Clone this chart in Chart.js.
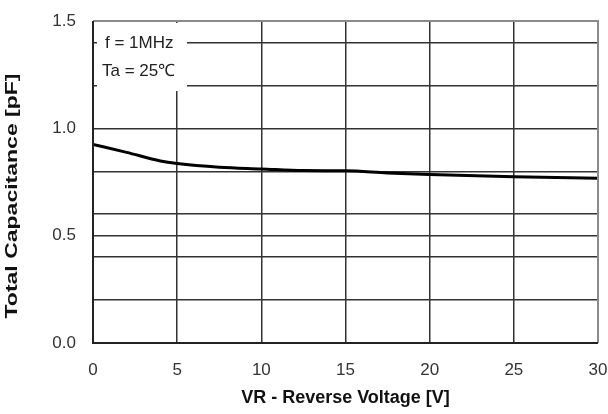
<!DOCTYPE html>
<html>
<head>
<meta charset="utf-8">
<script src="https://cdn.jsdelivr.net/npm/chart.js@4"></script>
<style>
  html, body { margin: 0; padding: 0; background: #fff; }
  #wrap { width: 608px; height: 414px; }
</style>
</head>
<body>
<div id="wrap"><canvas id="capChart" width="608" height="414"></canvas></div>
<script>
// values
const voltage = [0, 2, 4, 5, 7.5, 10, 12.5, 15, 17.5, 20, 25, 30];
const capacitance = [0.925, 0.888, 0.848, 0.836, 0.819, 0.811, 0.803, 0.802, 0.792, 0.785, 0.775, 0.767];
const yGridValues = [0, 0.2, 0.4, 0.5, 0.6, 0.8, 1.0, 1.2, 1.4, 1.5];
const yLabelValues = [0, 0.5, 1.0, 1.5];
const xTickValues = [0, 5, 10, 15, 20, 25, 30];
const noteLines = ['f = 1MHz', 'Ta = 25\u2103'];
const yTitle = 'Total Capacitance [pF]';
const xTitle = 'VR - Reverse Voltage [V]';

const FONT = "'Liberation Sans', Arial, sans-serif";

// white note box top-left, frame, and the (tall, narrow) y title
const notePlugin = {
    id: 'note',
    beforeDatasetsDraw(chart) {
        const { ctx, chartArea } = chart;
        ctx.save();
        ctx.fillStyle = '#fff';
        ctx.fillRect(chartArea.left + 4, chartArea.top + 2, 90, 68);
        ctx.fillStyle = '#222';
        ctx.font = '17px ' + FONT;
        ctx.textBaseline = 'middle';
        ctx.fillText(noteLines[0], chartArea.left + 12, chartArea.top + 22);
        ctx.fillText(noteLines[1], chartArea.left + 9, chartArea.top + 50);
        ctx.restore();
    },
    afterDraw(chart) {
        const { ctx, chartArea } = chart;
        ctx.save();
        ctx.strokeStyle = '#8a8a8a';
        ctx.lineWidth = 2;
        ctx.beginPath();
        ctx.moveTo(chartArea.left, chartArea.top);
        ctx.lineTo(chartArea.right, chartArea.top);
        ctx.lineTo(chartArea.right, chartArea.bottom);
        ctx.stroke();
        ctx.strokeStyle = '#222';
        ctx.beginPath();
        ctx.moveTo(chartArea.left, chartArea.top);
        ctx.lineTo(chartArea.left, chartArea.bottom);
        ctx.lineTo(chartArea.right, chartArea.bottom);
        ctx.stroke();

        // y title
        ctx.font = 'bold 17px ' + FONT;
        ctx.fillStyle = '#111';
        ctx.textAlign = 'center';
        ctx.textBaseline = 'alphabetic';
        const w = ctx.measureText(yTitle).width;
        ctx.translate(17, 196);
        ctx.rotate(-Math.PI / 2);
        ctx.scale(245 / w, 1);
        ctx.fillText(yTitle, 0, 0);
        ctx.restore();
    }
};

new Chart(document.getElementById('capChart'), {
    type: 'line',
    data: {
        datasets: [{
            data: voltage.map((v, i) => ({ x: v, y: capacitance[i] })),
            borderColor: '#000',
            borderWidth: 3,
            pointRadius: 0,
            cubicInterpolationMode: 'monotone',
            fill: false
        }]
    },
    options: {
        responsive: false,
        animation: false,
        layout: { padding: { top: 21, right: 10, bottom: 4, left: 0 } },
        plugins: { legend: { display: false }, tooltip: { enabled: false } },
        scales: {
            x: {
                type: 'linear',
                min: 0,
                max: 30,
                afterBuildTicks: axis => { axis.ticks = xTickValues.map(v => ({ value: v })); },
                afterFit: axis => {
                    axis.height = 67;
                    axis.paddingLeft = 0;
                    axis.paddingRight = 0;
                },
                grid: { color: '#333', lineWidth: 1.5, tickLength: 0 },
                border: { display: false },
                ticks: { color: '#333', font: { family: FONT, size: 17 }, padding: 17, maxRotation: 0 },
                title: {
                    display: true,
                    text: xTitle,
                    color: '#111',
                    font: { family: FONT, size: 18, weight: 'bold' },
                    padding: { top: 0, bottom: 1 }
                }
            },
            y: {
                min: 0,
                max: 1.5,
                afterBuildTicks: axis => { axis.ticks = yGridValues.map(v => ({ value: v })); },
                afterFit: axis => {
                    axis.width = 93;
                    axis.paddingTop = 0;
                    axis.paddingBottom = 0;
                },
                grid: { color: '#333', lineWidth: 1.5, tickLength: 0 },
                border: { display: false },
                ticks: {
                    color: '#333',
                    font: { family: FONT, size: 17 },
                    padding: 17,
                    autoSkip: false,
                    callback: v => yLabelValues.some(l => Math.abs(l - v) < 1e-6) ? v.toFixed(1) : ''
                }
            }
        }
    },
    plugins: [notePlugin]
});
</script>
</body>
</html>
